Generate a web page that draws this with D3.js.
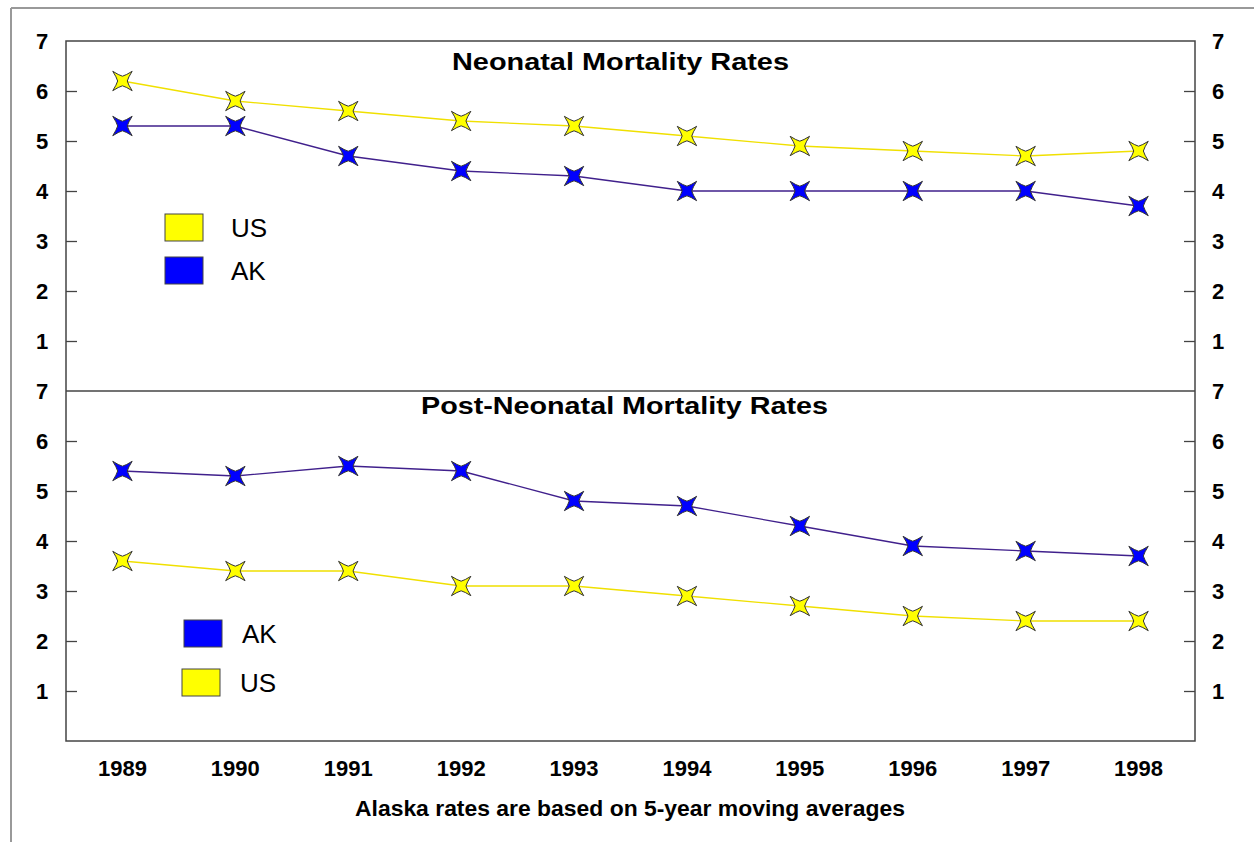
<!DOCTYPE html>
<html><head><meta charset="utf-8">
<script src="https://cdn.jsdelivr.net/npm/d3@7"></script>
<style>body{margin:0;background:#fff}svg{display:block}text{font-family:"Liberation Sans",Arial,sans-serif}</style>
</head><body><svg id="c" width="1254" height="842"></svg>
<script>
const years = ["1989","1990","1991","1992","1993","1994","1995","1996","1997","1998"];
const neoUS = [6.2,5.8,5.6,5.4,5.3,5.1,4.9,4.8,4.7,4.8];
const neoAK = [5.3,5.3,4.7,4.4,4.3,4.0,4.0,4.0,4.0,3.7];
const postAK = [5.4,5.3,5.5,5.4,4.8,4.7,4.3,3.9,3.8,3.7];
const postUS = [3.6,3.4,3.4,3.1,3.1,2.9,2.7,2.5,2.4,2.4];
const yTicks = [1,2,3,4,5,6,7];
const titles = ["Neonatal Mortality Rates","Post-Neonatal Mortality Rates"];
const footer = "Alaska rates are based on 5-year moving averages";

const svg = d3.select("#c");
const L=66, R=1195, T=41, M=391, B=741;
const x = d3.scalePoint().domain(years).range([L,R]).padding(0.5);
const yTop = d3.scaleLinear().domain([0,7]).range([M,T]);
const yBot = d3.scaleLinear().domain([0,7]).range([B,M]);
const US_C="#ffff00", AK_C="#0000ff";
const US_LINE="#f0e000", AK_LINE="#40208c";

// outer frame
svg.append("line").attr("x1",11).attr("x2",11).attr("y1",8).attr("y2",842).attr("stroke","#999").attr("stroke-width",2);
svg.append("line").attr("x1",11).attr("x2",1254).attr("y1",8).attr("y2",8).attr("stroke","#999").attr("stroke-width",2);

function axes(y){
  const left = d3.axisLeft(y).tickValues([1,2,3,4,5,6]).tickSize(-11).tickFormat("");
  const right = d3.axisRight(y).tickValues([1,2,3,4,5,6]).tickSize(-11).tickFormat("");
  const gl = svg.append("g").attr("transform",`translate(${L},0)`).call(left);
  const gr = svg.append("g").attr("transform",`translate(${R},0)`).call(right);
  [gl,gr].forEach(g=>{g.select(".domain").remove();g.selectAll("line").attr("stroke","#444").attr("stroke-width",1.3);});
  yTicks.forEach(v=>{
    svg.append("text").attr("x",42).attr("y",y(v)).attr("dy","0.36em").attr("text-anchor","middle")
      .attr("font-size",22).attr("font-weight","bold").text(v);
    svg.append("text").attr("x",1218).attr("y",y(v)).attr("dy","0.36em").attr("text-anchor","middle")
      .attr("font-size",22).attr("font-weight","bold").text(v);
  });
}
axes(yTop); axes(yBot);

// frame
svg.append("rect").attr("x",L).attr("y",T).attr("width",R-L).attr("height",B-T).attr("fill","none").attr("stroke","#444").attr("stroke-width",1.5);
svg.append("line").attr("x1",L).attr("x2",R).attr("y1",M).attr("y2",M).attr("stroke","#444").attr("stroke-width",1.5);

// 4-point star with tips on the diagonals (X shape), concave sides
const t=9.7, n=4.8;
function starPath(){
  const rot=(p,a)=>[p[0]*Math.cos(a)-p[1]*Math.sin(a), p[0]*Math.sin(a)+p[1]*Math.cos(a)];
  const tip=[t,-t], notch=[0,-n];
  const f=v=>v.toFixed(2);
  let d=`M${f(-t)},${f(-t)}`;
  for(let i=0;i<4;i++){
    const a=i*Math.PI/2;
    const c1=rot([-3.6,-5.8],a), N=rot(notch,a), c2=rot([3.6,-5.8],a), TP=rot(tip,a);
    d+=`Q${f(c1[0])},${f(c1[1])} ${f(N[0])},${f(N[1])}Q${f(c2[0])},${f(c2[1])} ${f(TP[0])},${f(TP[1])}`;
  }
  return d+"Z";
}
const star = starPath();

function series(vals, y, lineC, fillC){
  const line = d3.line().x((d,i)=>x(years[i])).y(d=>y(d));
  svg.append("path").datum(vals).attr("d",line).attr("fill","none").attr("stroke",lineC).attr("stroke-width",1.3);
  svg.selectAll(null).data(vals).enter().append("path").attr("d",star)
    .attr("transform",(d,i)=>`translate(${x(years[i])},${y(d)})`)
    .attr("fill",fillC).attr("stroke","#333").attr("stroke-width",1);
}
series(neoUS,yTop,US_LINE,US_C);
series(neoAK,yTop,AK_LINE,AK_C);
series(postAK,yBot,AK_LINE,AK_C);
series(postUS,yBot,US_LINE,US_C);

// titles
svg.append("text").attr("x",452).attr("y",69.5).attr("font-size",23.5).attr("font-weight","bold")
  .attr("textLength",337).attr("lengthAdjust","spacingAndGlyphs").text(titles[0]);
svg.append("text").attr("x",421).attr("y",413.5).attr("font-size",23.5).attr("font-weight","bold")
  .attr("textLength",407).attr("lengthAdjust","spacingAndGlyphs").text(titles[1]);

// legends
function legend(items){
  items.forEach(it=>{
    svg.append("rect").attr("x",it.bx).attr("y",it.by).attr("width",38).attr("height",27).attr("fill",it.c).attr("stroke","#444").attr("stroke-width",1);
    svg.append("text").attr("x",it.tx).attr("y",it.by+13.5).attr("dy","0.36em").attr("font-size",26).text(it.label);
  });
}
legend([{bx:165,by:214,c:US_C,tx:231,label:"US"},{bx:165,by:257,c:AK_C,tx:231,label:"AK"}]);
legend([{bx:184,by:620,c:AK_C,tx:242,label:"AK"},{bx:182,by:669,c:US_C,tx:240,label:"US"}]);

// x labels
years.forEach(yr=>{
  svg.append("text").attr("x",x(yr)).attr("y",776).attr("text-anchor","middle").attr("font-size",22).attr("font-weight","bold").text(yr);
});
svg.append("text").attr("x",355).attr("y",816).attr("font-size",21.5).attr("font-weight","bold")
  .attr("textLength",550).attr("lengthAdjust","spacingAndGlyphs").text(footer);
</script></body></html>
